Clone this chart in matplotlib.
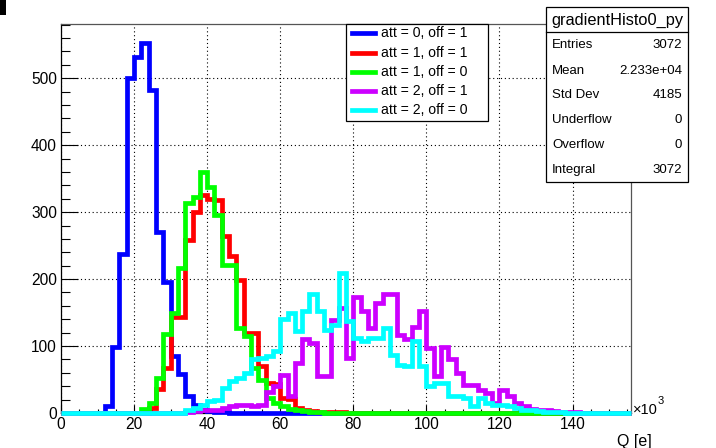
import numpy as np
import matplotlib
matplotlib.use("Agg")
import matplotlib.pyplot as plt
from matplotlib.patches import Rectangle
from matplotlib.lines import Line2D

plt.rcParams['font.family'] = ['Liberation Sans', 'DejaVu Sans']

# ---------------- data (Q in units of 10^3 e, bin width 2) ----------------
bin_edges = np.arange(0, 158, 2)  # 0..156 -> 78 bins

def fill(start_bin, vals, n=78):
    out = [0] * n
    for i, v in enumerate(vals):
        out[start_bin + i] = v
    return out

blue_vals = fill(6, [10, 98, 238, 501, 532, 553, 483, 271, 195, 85, 58, 25, 12, 5, 3, 2, 1])
red_vals = fill(12, [7, 36, 67, 143, 143, 258, 300, 325, 320, 318, 264, 235, 198, 120, 119,
                     70, 45, 44, 22, 21, 7, 5, 3, 2, 2, 1, 1])
green_vals = fill(11, [6, 15, 52, 118, 150, 216, 313, 323, 360, 337, 296, 221, 221, 127, 115,
                       67, 49, 23, 15, 10, 6, 4, 3, 2, 1])
purple_vals = fill(17, [2, 3, 4, 5, 5, 8, 10, 12, 12, 10, 12, 32, 40, 57, 25, 75, 110, 105, 55,
                        55, 139, 157, 82, 174, 152, 127, 164, 177, 177, 117, 110, 129, 152, 97,
                        55, 99, 80, 60, 42, 42, 35, 30, 15, 35, 25, 15, 10, 6, 5, 4, 3, 2, 2, 1])
cyan_vals = fill(17, [5, 8, 12, 18, 20, 37, 48, 53, 60, 80, 82, 85, 92, 140, 150, 122, 152, 178,
                      152, 124, 132, 209, 137, 112, 107, 112, 112, 127, 87, 72, 70, 107, 70, 40,
                      45, 45, 25, 25, 22, 10, 22, 15, 12, 12, 10, 8, 5, 4, 3, 2, 1, 1])

series = [
    ("att = 0, off = 1", blue_vals, "#0000ff"),
    ("att = 1, off = 1", red_vals, "#ff0000"),
    ("att = 1, off = 0", green_vals, "#00ff00"),
    ("att = 2, off = 1", purple_vals, "#cc00ff"),
    ("att = 2, off = 0", cyan_vals, "#00ffff"),
]

stats_title = "gradientHisto0_py"
stats_labels = ["Entries", "Mean", "Std Dev", "Underflow", "Overflow", "Integral"]
stats_values = ["3072", "2.233e+04", "4185", "0", "0", "3072"]

# ---------------- figure ----------------
W, H = 716, 448
fig = plt.figure(figsize=(W / 100, H / 100), dpi=100)

def fx(x):
    return x / W

def fy(y):
    return 1 - y / H

L, R, T, B = 61, 631, 24, 413
ax = fig.add_axes([fx(L), fy(B), (R - L) / W, (B - T) / H])
ax.set_xlim(0, 156)
ax.set_ylim(0, 581)

for name, vals, col in series:
    ax.stairs(vals, bin_edges, color=col, linewidth=3.4, clip_on=False, zorder=3)

ax.set_xticks(np.arange(0, 141, 20))
ax.set_xticks(np.arange(0, 156, 5), minor=True)
ax.set_yticks(np.arange(0, 501, 100))
ax.set_yticks(np.arange(0, 581, 20), minor=True)
ax.tick_params(axis='x', which='major', direction='in', length=5.8, width=0.8,
               labelsize=11.2, pad=3)
ax.tick_params(axis='x', which='minor', direction='in', length=2.9, width=0.8)
ax.tick_params(axis='y', which='major', direction='in', length=12.2, width=0.8,
               labelsize=11.2, pad=3)
ax.tick_params(axis='y', which='minor', direction='in', length=6.5, width=0.8)
ax.grid(True, which='major', color='black', linestyle=(0, (1, 2.5)), linewidth=0.8)
for s in ax.spines.values():
    s.set_linewidth(0.9)
    s.set_color('black')
ax.spines['top'].set_color('#555555')
ax.spines['right'].set_color('#555555')

# exponent label and axis title
fig.text(fx(633), fy(410), "\u00d710", fontsize=10.5, ha='left', va='center')
fig.text(fx(658), fy(401), "3", fontsize=8, ha='left', va='center')
fig.text(fx(634), fy(441), "Q [e]", fontsize=11.5, ha='center', va='center')

# black block in the corner
fig.patches.append(Rectangle((0, fy(15)), fx(6), 15 / H, transform=fig.transFigure,
                             facecolor='black', edgecolor='none'))

# ---------------- legend ----------------
lx0, lx1, ly0, ly1 = 346, 488, 24, 121
fig.patches.append(Rectangle((fx(lx0), fy(ly1)), fx(lx1) - fx(lx0), fy(ly0) - fy(ly1),
                             transform=fig.transFigure, facecolor='white',
                             edgecolor='black', linewidth=0.9, zorder=5))
rows = [33.3, 52.7, 71.7, 91.0, 110.0]
for (name, vals, col), yy in zip(series, rows):
    fig.lines.append(Line2D([fx(352), fx(375)], [fy(yy), fy(yy)], transform=fig.transFigure,
                            color=col, linewidth=3.4, zorder=6))
    fig.text(fx(381), fy(yy), name, fontsize=10.1, ha='left', va='center', zorder=6)

# ---------------- stats box ----------------
sx0, sx1, sy0, sy1 = 546, 688, 7, 182
fig.patches.append(Rectangle((fx(sx0), fy(sy1)), fx(sx1) - fx(sx0), fy(sy0) - fy(sy1),
                             transform=fig.transFigure, facecolor='white',
                             edgecolor='black', linewidth=0.9, zorder=5))
fig.lines.append(Line2D([fx(sx0), fx(sx1)], [fy(32.3), fy(32.3)], transform=fig.transFigure,
                        color='black', linewidth=0.9, zorder=6))
fig.text(fx((sx0 + sx1) / 2), fy(20), stats_title, fontsize=11.8, ha='center', va='center',
         zorder=6)
srows = [45, 70.5, 95, 120, 145, 170]
for lab, val, yy in zip(stats_labels, stats_values, srows):
    fig.text(fx(552), fy(yy), lab, fontsize=9.5, ha='left', va='center', zorder=6)
    fig.text(fx(682), fy(yy), val, fontsize=9.5, ha='right', va='center', zorder=6)

fig.savefig("out.png", dpi=100)
